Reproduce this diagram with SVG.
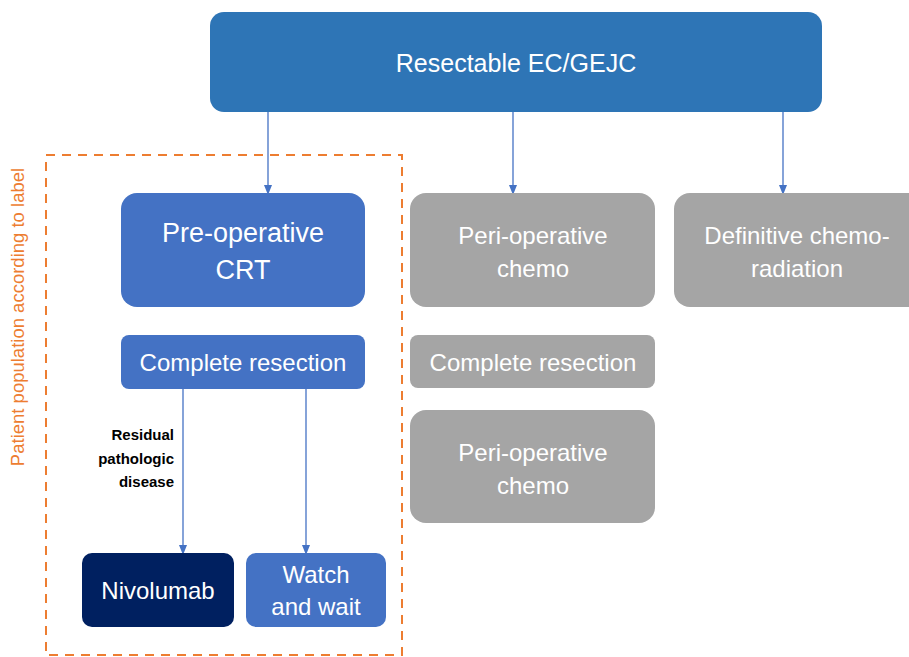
<svg xmlns="http://www.w3.org/2000/svg" width="909" height="657" viewBox="0 0 909 657">
<defs>
<marker id="ah" markerWidth="10" markerHeight="10" refX="5" refY="5" orient="auto" markerUnits="userSpaceOnUse">
<path d="M0,1 L10,5 L0,9 Z" fill="#4472C4"/>
</marker>
<style>
.t{font-family:"Liberation Sans",Arial,sans-serif;fill:#fff;text-anchor:middle}
.blue{fill:#4472C4}
.gray{fill:#A5A5A5}
.conn{stroke:#4472C4;stroke-width:1.3;fill:none;marker-end:url(#ah)}
</style>
</defs>
<rect width="909" height="657" fill="#fff"/>
<g id="scope">
<rect x="46" y="155" width="356" height="500" fill="none" stroke="#ED7D31" stroke-width="2" stroke-dasharray="9,7"/>
<text x="24" y="317" transform="rotate(-90 24 317)" font-family="Liberation Sans,Arial,sans-serif" font-size="18.5" fill="#ED7D31" text-anchor="middle">Patient population according to label</text>
</g>
<g id="connectors">
<line class="conn" x1="268" y1="112" x2="268" y2="190"/>
<line class="conn" x1="513" y1="112" x2="513" y2="190"/>
<line class="conn" x1="783" y1="112" x2="783" y2="190"/>
<line class="conn" x1="183" y1="389" x2="183" y2="550"/>
<line class="conn" x1="306" y1="389" x2="306" y2="550"/>
<text x="174" y="440" font-family="Liberation Sans,Arial,sans-serif" font-size="15" font-weight="bold" fill="#000" text-anchor="end"><tspan x="174">Residual</tspan><tspan x="174" dy="24">pathologic</tspan><tspan x="174" dy="23">disease</tspan></text>
</g>
<g id="root">
<rect x="210" y="12" width="612" height="100" rx="14" fill="#2E75B6"/>
<text class="t" x="516" y="72" font-size="25">Resectable EC/GEJC</text>
</g>
<g id="preop">
<rect class="blue" x="121" y="193" width="244" height="114" rx="16"/>
<text class="t" x="243" y="242" font-size="27">Pre-operative</text>
<text class="t" x="243" y="279" font-size="27">CRT</text>
</g>
<g id="resect1">
<rect class="blue" x="121" y="335" width="244" height="54" rx="8"/>
<text class="t" x="243" y="371" font-size="24">Complete resection</text>
</g>
<g id="nivo">
<rect x="82" y="553" width="152" height="74" rx="10" fill="#002060"/>
<text class="t" x="158" y="599" font-size="24">Nivolumab</text>
</g>
<g id="watch">
<rect class="blue" x="246" y="553" width="140" height="74" rx="10"/>
<text class="t" x="316" y="583" font-size="24">Watch</text>
<text class="t" x="316" y="615" font-size="24">and wait</text>
</g>
<g id="periop1">
<rect class="gray" x="410" y="193" width="245" height="114" rx="16"/>
<text class="t" x="533" y="244" font-size="24">Peri-operative</text>
<text class="t" x="533" y="277" font-size="24">chemo</text>
</g>
<g id="definitive">
<rect class="gray" x="674" y="193" width="250" height="114" rx="16"/>
<text class="t" x="797" y="244" font-size="24">Definitive chemo-</text>
<text class="t" x="797" y="277" font-size="24">radiation</text>
</g>
<g id="resect2">
<rect class="gray" x="410" y="335" width="245" height="53" rx="8"/>
<text class="t" x="533" y="371" font-size="24">Complete resection</text>
</g>
<g id="periop2">
<rect class="gray" x="410" y="410" width="245" height="113" rx="16"/>
<text class="t" x="533" y="461" font-size="24">Peri-operative</text>
<text class="t" x="533" y="494" font-size="24">chemo</text>
</g>
</svg>
